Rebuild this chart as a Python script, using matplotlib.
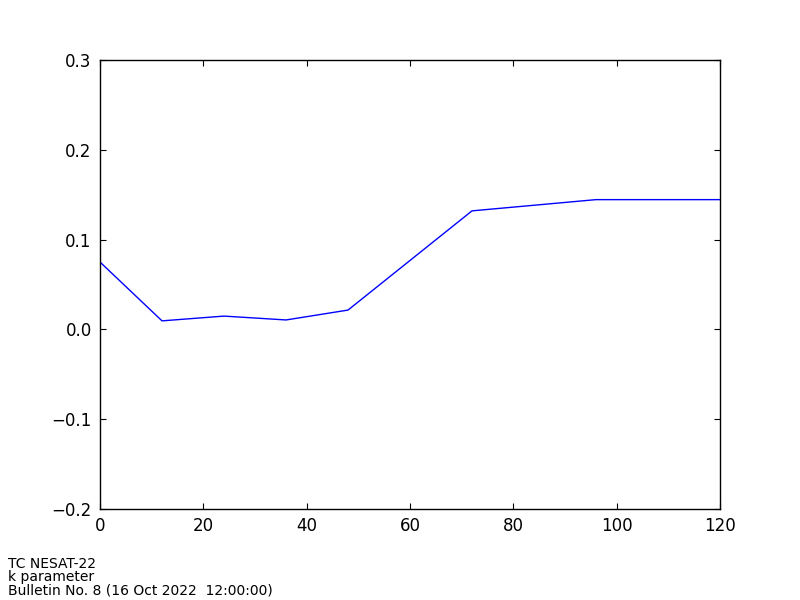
#!/usr/bin/env python

import matplotlib
matplotlib.use("Agg")
import matplotlib.pyplot as plt

# forecast hours and k parameter
hours = [0, 12, 24, 36, 48, 72, 96, 120]
kpar = [0.075, 0.0095, 0.0148, 0.0105, 0.0215, 0.132, 0.1445, 0.1445]

xticks = [0, 20, 40, 60, 80, 100, 120]
yticks = [-0.2, -0.1, 0.0, 0.1, 0.2, 0.3]

fig = plt.figure(figsize=(8, 6), dpi=100)
ax = fig.add_axes([0.125, 0.1517, 0.775, 0.7483])
ax.plot(hours, kpar, color='b', linewidth=1.0)
ax.set_xlim(0, 120)
ax.set_ylim(-0.2, 0.3)
ax.set_xticks(xticks)
ax.set_yticks(yticks)
ax.set_yticklabels([u"\u22120.2", u"\u22120.1", "0.0", "0.1", "0.2", "0.3"])
ax.tick_params(direction='in', top=True, right=True, length=4, width=0.8,
               labelsize=12, pad=6)
for s in ax.spines.values():
    s.set_linewidth(1.0)

fig.text(0.01, 0.005, "TC NESAT-22\nk parameter\nBulletin No. 8 (16 Oct 2022  12:00:00)",
         fontsize=10, ha='left', va='bottom', linespacing=0.9)

fig.savefig("out.png", dpi=100)
